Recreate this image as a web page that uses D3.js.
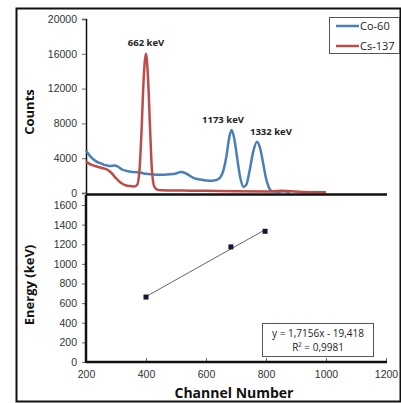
<!DOCTYPE html>
<html>
<head>
<meta charset="utf-8">
<script src="https://cdn.jsdelivr.net/npm/d3@7"></script>
<style>
  body { margin: 0; background: #fff; }
  svg { font-family: "Open Sans", "Noto Sans", sans-serif; }
  .tick text { fill: #333; font-size: 10.5px; }
</style>
</head>
<body>
<script>
// spectrum data (channel, counts)
var coChannels = [200, 210, 220, 235, 250, 265, 280, 295, 305, 320, 340, 360, 380, 400, 420, 440, 460, 480, 500, 515, 530, 545, 560, 580, 600, 620, 635, 648, 658, 668, 677, 685, 694, 704, 714, 725, 735, 745, 757, 770, 780, 790, 800, 810, 820, 840, 860, 880];
var coCounts = [4900, 4400, 4000, 3600, 3400, 3200, 3100, 3150, 3050, 2700, 2500, 2400, 2350, 2200, 2150, 2100, 2100, 2150, 2250, 2400, 2300, 2000, 1700, 1550, 1450, 1400, 1500, 1800, 2600, 4200, 6300, 7250, 6300, 4000, 1800, 700, 1000, 2500, 4700, 5900, 5200, 3500, 1700, 600, 200, 150, 200, 100];
var csChannels = [200, 215, 230, 250, 270, 285, 300, 315, 330, 345, 360, 370, 378, 385, 392, 400, 407, 414, 420, 428, 440, 470, 520, 600, 700, 800, 850, 880, 920, 1000];
var csCounts = [3600, 3300, 3100, 2900, 2700, 2300, 1700, 1200, 900, 800, 750, 900, 2500, 7000, 13000, 16000, 13000, 7000, 2500, 700, 350, 300, 280, 250, 200, 180, 250, 200, 120, 80];

// peak labels
var peakLabels = ["662 keV", "1173 keV", "1332 keV"];
var peakChannels = [400, 690, 783];
var peakCounts = [16000, 7250, 5900];

// calibration
var calChannels = [400, 683, 797];
var calEnergies = [662, 1173, 1332];
var slope = 1.7156, intercept = -19.418;

var countTicks = [0, 4000, 8000, 12000, 16000, 20000];
var energyTicks = [0, 200, 400, 600, 800, 1000, 1200, 1400, 1600];
var channelTicks = [200, 400, 600, 800, 1000, 1200];

var blue = "#4a7ebb", red = "#be4b48";
var fmt = d3.format("d");

var svg = d3.select("body").append("svg").attr("width", 401).attr("height", 403);

svg.append("rect")
  .attr("x", 16.5).attr("y", 8.5).attr("width", 384).attr("height", 393)
  .attr("fill", "none").attr("stroke", "#111").attr("stroke-width", 2);

var x = d3.scaleLinear().domain([200, 1200]).range([86, 386]);
var yTop = d3.scaleLinear().domain([0, 20000]).range([193, 19]);
var yBot = d3.scaleLinear().domain([0, 1600]).range([362, 205]);

// top chart y axis
var gTop = svg.append("g").attr("transform", "translate(86,0)")
  .call(d3.axisLeft(yTop).tickValues(countTicks).tickFormat(fmt).tickSize(4).tickPadding(5));
gTop.select(".domain").attr("stroke", "#111").attr("stroke-width", 1.5);
gTop.selectAll(".tick line").attr("stroke", "#666");

var line = d3.line().curve(d3.curveMonotoneX);

svg.append("path")
  .attr("d", line(coChannels.map((c, i) => [x(c), yTop(coCounts[i])])))
  .attr("fill", "none").attr("stroke", blue).attr("stroke-width", 2.5);
svg.append("path")
  .attr("d", line(csChannels.map((c, i) => [x(c), yTop(csCounts[i])])))
  .attr("fill", "none").attr("stroke", red).attr("stroke-width", 2.5);

// top x axis (no labels)
svg.append("line").attr("x1", 86).attr("x2", 387)
  .attr("y1", 194.5).attr("y2", 194.5).attr("stroke", "#111").attr("stroke-width", 2.5);

svg.selectAll("text.peak")
  .data(peakLabels)
  .enter()
  .append("text")
  .attr("class", "peak")
  .attr("x", (d, i) => x(peakChannels[i]) + (i == 0 ? 0 : i == 1 ? -10 : 10))
  .attr("y", (d, i) => yTop(peakCounts[i]) - (i == 0 ? 8 : 7))
  .attr("text-anchor", "middle")
  .attr("font-size", 9.5).attr("font-weight", "bold").attr("fill", "#222")
  .text(d => d);

svg.append("text")
  .attr("transform", "translate(34,112) rotate(-90)")
  .attr("text-anchor", "middle")
  .attr("font-size", 13).attr("font-weight", "bold").attr("fill", "#111")
  .text("Counts");

// legend
var legend = svg.append("g");
legend.append("rect").attr("x", 329.5).attr("y", 17.5).attr("width", 70).attr("height", 36)
  .attr("fill", "#fff").attr("stroke", "#555");
[["Co-60", blue], ["Cs-137", red]].forEach((d, i) => {
  legend.append("line").attr("x1", 336).attr("x2", 359)
    .attr("y1", 26 + i * 20).attr("y2", 26 + i * 20)
    .attr("stroke", d[1]).attr("stroke-width", 2.5);
  legend.append("text").attr("x", 360).attr("y", 30 + i * 20)
    .attr("font-size", 11).attr("fill", "#222").text(d[0]);
});

// bottom chart
var gBotY = svg.append("g").attr("transform", "translate(86,0)")
  .call(d3.axisLeft(yBot).tickValues(energyTicks).tickFormat(fmt).tickSize(4).tickPadding(5));
gBotY.select(".domain").remove();
gBotY.selectAll(".tick line").attr("stroke", "#666");

var gBotX = svg.append("g").attr("transform", "translate(0,362)")
  .call(d3.axisBottom(x).tickValues(channelTicks).tickFormat(fmt).tickSize(-4).tickPadding(9));
gBotX.select(".domain").remove();
gBotX.selectAll(".tick line").attr("stroke", "#666");

svg.append("line").attr("x1", 86).attr("x2", 387).attr("y1", 362).attr("y2", 362)
  .attr("stroke", "#111").attr("stroke-width", 2.5);
svg.append("line").attr("x1", 86).attr("x2", 86).attr("y1", 195).attr("y2", 363)
  .attr("stroke", "#111").attr("stroke-width", 2.5);

// trendline
var c0 = d3.min(calChannels), c1 = d3.max(calChannels);
svg.append("line")
  .attr("x1", x(c0)).attr("y1", yBot(slope * c0 + intercept))
  .attr("x2", x(c1)).attr("y2", yBot(slope * c1 + intercept))
  .attr("stroke", "#555").attr("stroke-width", 0.9);

svg.selectAll("rect.pt")
  .data(calChannels)
  .enter()
  .append("rect")
  .attr("class", "pt")
  .attr("x", (d) => x(d) - 2.5)
  .attr("y", (d, i) => yBot(calEnergies[i]) - 2.5)
  .attr("width", 5).attr("height", 5)
  .attr("fill", "#111833");

// equation box
svg.append("rect").attr("x", 262.5).attr("y", 323.5).attr("width", 111).attr("height", 33)
  .attr("fill", "#fff").attr("stroke", "#555");
svg.append("text").attr("x", 318).attr("y", 337)
  .attr("text-anchor", "middle").attr("font-size", 10).attr("fill", "#222")
  .text("y = 1,7156x - 19,418");
svg.append("text").attr("x", 318).attr("y", 351)
  .attr("text-anchor", "middle").attr("font-size", 10).attr("fill", "#222")
  .text("R² = 0,9981");

svg.append("text")
  .attr("transform", "translate(34,285) rotate(-90)")
  .attr("text-anchor", "middle")
  .attr("font-size", 13).attr("font-weight", "bold").attr("fill", "#111")
  .text("Energy (keV)");

svg.append("text")
  .attr("x", 234).attr("y", 398)
  .attr("text-anchor", "middle")
  .attr("font-size", 14).attr("font-weight", "bold").attr("fill", "#111")
  .text("Channel Number");
</script>
</body>
</html>
